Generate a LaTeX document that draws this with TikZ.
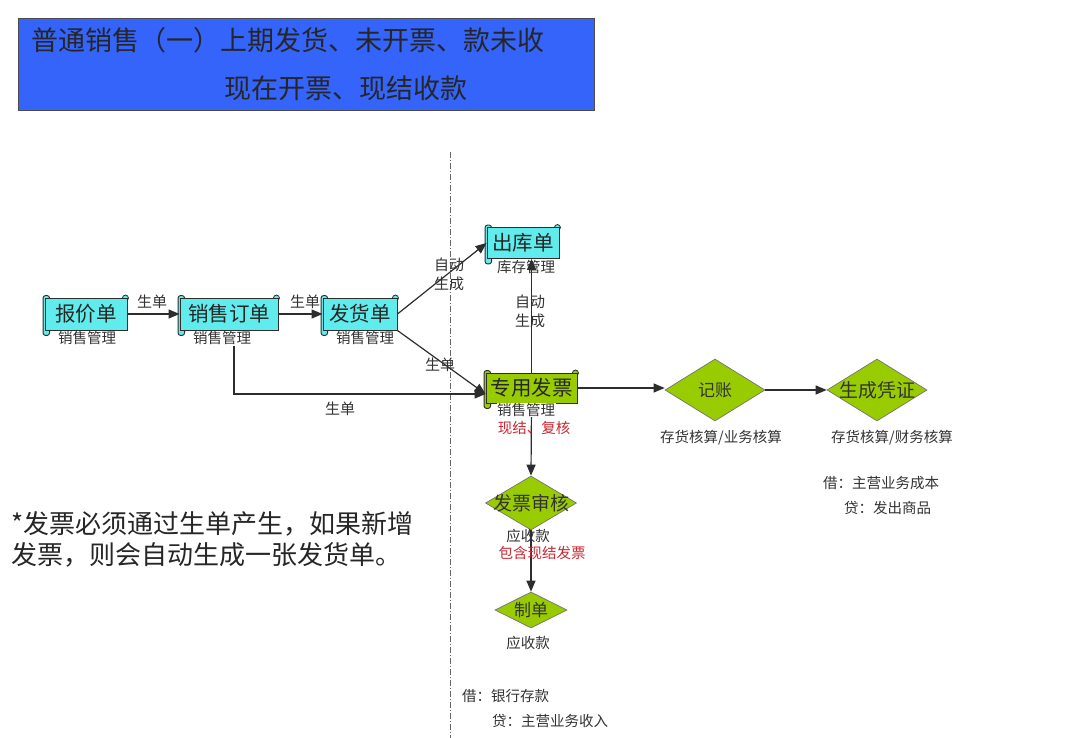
\documentclass[tikz,border=0pt]{standalone}
\usepackage{fontspec}
\setmainfont{Noto Sans CJK SC}
\usetikzlibrary{arrows.meta,shapes.geometric}
\definecolor{scrollcyan}{RGB}{96,236,236}
\definecolor{scrollgreen}{RGB}{153,204,0}
\definecolor{titleblue}{RGB}{52,100,250}
\definecolor{notered}{RGB}{200,40,50}
\definecolor{inkgray}{RGB}{45,45,45}
\newcommand{\px}[1]{\fontsize{#1}{#1}\selectfont}
\begin{document}
\begin{tikzpicture}[x=1pt,y=-1pt,
  scroll/.style={draw=inkgray, fill=#1, line width=0.9pt, inner sep=0pt,
    minimum height=32pt, font=\px{20.5}, text=black!85,
    append after command={\pgfextra{%
      \edef\scrollname{\tikzlastnode}%
      \pgfinterruptpath
      \draw[draw=inkgray, fill=#1, line width=0.9pt, rounded corners=2.5pt]
        ([xshift=-1.5pt,yshift=2pt]\scrollname.north west) rectangle
        ([xshift=5pt,yshift=-5pt]\scrollname.south west);
      \draw[draw=inkgray, fill=#1, line width=0.8pt]
        ([xshift=-2pt,yshift=-0.5pt]\scrollname.north east) circle[radius=3pt];
      \endpgfinterruptpath}}},
  dbox/.style={diamond, draw=black!55, fill=scrollgreen, line width=0.7pt,
    inner sep=0pt, aspect=1.6, text=black!80},
  lbl/.style={font=\px{14.5}, text=black!80, inner sep=0pt},
  rlbl/.style={lbl, text=notered},
  elbl/.style={font=\fontsize{15}{19}\selectfont, text=black!80, inner sep=0pt, align=center},
  arr/.style={draw=inkgray, line width=1.2pt, -{Triangle[length=11pt,width=9pt]}},
  guide/.style={draw=black!60, line width=0.8pt, dash pattern=on 6pt off 2pt on 1pt off 2pt}
]
\fill[white] (0,0) rectangle (1080,738);
\useasboundingbox (0,0) rectangle (1080,738);

% title
\node[draw=black!70, fill=titleblue, line width=0.8pt, minimum width=576pt,
  minimum height=92pt, inner sep=0pt, anchor=north west] (title) at (18,18) {};
\node[font=\px{27}, text=black!85, inner sep=0pt, anchor=west] (t1) at (31,40)
  {普通销售（一）上期发货、未开票、款未收};
\node[font=\px{27}, text=black!85, inner sep=0pt, anchor=west] (t2) at (224,88)
  {现在开票、现结收款};

% divider
\coordinate (g1) at (450,152);
\coordinate (g2) at (450,738);
\draw[guide] (g1) -- (g2);

% scroll nodes
\node[scroll=scrollcyan, minimum width=82pt] (bj) at (86,314) {报价单};
\node[scroll=scrollcyan, minimum width=98pt] (xdd) at (229,314) {销售订单};
\node[scroll=scrollcyan, minimum width=74pt] (fh) at (360,314) {发货单};
\node[scroll=scrollcyan, minimum width=72pt, minimum height=31pt] (ck) at (523,243) {出库单};
\node[scroll=scrollgreen, minimum width=91pt, minimum height=30pt] (zy) at (531.5,388) {专用发票};

\node[lbl] (bjl) at (87,338) {销售管理};
\node[lbl] (xddl) at (222,338) {销售管理};
\node[lbl] (fhl) at (365,338) {销售管理};
\node[lbl] (ckl) at (526,267) {库存管理};

% diamonds
\node[dbox, minimum width=100pt, minimum height=62pt, font=\px{17}] (jz) at (715,390) {\makebox[0pt]{记账}};
\node[dbox, minimum width=100pt, minimum height=62pt, font=\px{19}] (sc) at (877,390) {\makebox[0pt]{生成凭证}};
\node[dbox, minimum width=91pt, minimum height=54pt, font=\px{19}] (fpsh) at (531,503) {\makebox[0pt]{发票审核}};
\node[dbox, minimum width=72pt, minimum height=36pt, font=\px{17}] (zd) at (531,610) {\makebox[0pt]{制单}};

% connectors
\draw[arr] (bj.east) -- (xdd.west);
\draw[arr] (xdd.east) -- (fh.west);
\draw[arr] (fh.east) -- (ck.west);
\draw[arr] (fh.south east) -- ([yshift=-6pt]zy.west);
\draw[arr] ([xshift=12pt,yshift=-1pt]xddl.south) |- ([yshift=-6pt]zy.west);
\draw[arr] (zy.north) -- (zy.north |- ck.south);
\draw[arr] (zy.east) -- (zy.east -| jz.west);
\draw[arr] (jz.east) -- (sc.west);
\draw[arr] (zy.south) -- (fpsh.north);
\draw[arr] (fpsh.south) -- (zd.north);

% labels over lines
\node[lbl, fill=white, inner sep=0.5pt] (zyl) at (526,410) {销售管理};
\node[rlbl] (zyr) at (534,428) {现结、复核};
\node[lbl] (fpshl) at (528,536) {应收款};
\node[rlbl] (fpshr) at (542,553) {包含现结发票};
\node[lbl] (zdl) at (528,643) {应收款};
\node[lbl] (jzl) at (721,438) {存货核算/业务核算};
\node[lbl] (scl) at (892,438) {存货核算/财务核算};

% edge labels
\node[elbl] (e1) at (152,302) {生单};
\node[elbl] (e2) at (305,302) {生单};
\node[elbl] (e3) at (449,274) {自动\\生成};
\node[elbl] (e4) at (440,365) {生单};
\node[elbl] (e5) at (340,409) {生单};
\node[elbl] (e6) at (530,311) {自动\\生成};

% journal entries
\node[lbl, anchor=west] (j1) at (823,483) {借：主营业务成本};
\node[lbl, anchor=west] (j2) at (844,508) {贷：发出商品};
\node[lbl, anchor=west] (j3) at (462,696) {借：银行存款};
\node[lbl, anchor=west] (j4) at (492,721) {贷：主营业务收入};

% note
\node[font=\fontsize{26}{31}\selectfont, text=black!85, inner sep=0pt, anchor=north west, align=left] (note) at (11,511)
  {*发票必须通过生单产生，如果新增\\发票，则会自动生成一张发货单。};
\end{tikzpicture}
\end{document}
